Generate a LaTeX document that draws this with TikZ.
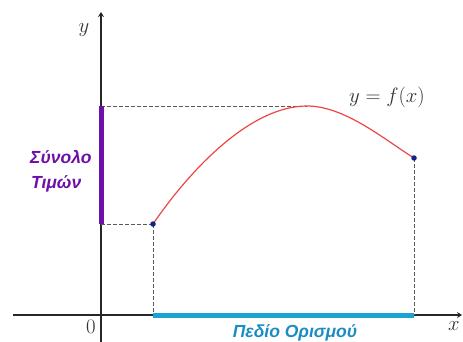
\documentclass[tikz,border=0pt]{standalone}
\usepackage{fontspec}
\usetikzlibrary{arrows.meta}
\newfontfamily\grk{Liberation Sans}
\definecolor{rangecol}{HTML}{6E0FA8}
\definecolor{domcol}{HTML}{19A4D4}
\definecolor{domtext}{HTML}{1B8CC4}
\definecolor{curvecol}{HTML}{EE4444}
\definecolor{ptcol}{HTML}{13238A}
\begin{document}
\begin{tikzpicture}[x=1pt,y=-1pt,
  axis/.style={line width=1.1pt,draw=black!85},
  guide/.style={line width=0.8pt,draw=black!65,dash pattern=on 3.5pt off 2.5pt},
  bar/.style={line width=5pt},
  pt/.style={circle,fill=ptcol,inner sep=0pt,minimum size=5.5pt},
  mathlbl/.style={font=\fontsize{22}{26}\selectfont,text=black!80},
  grklbl/.style={font=\grk\bfseries\itshape\fontsize{17.5}{21}\selectfont}]
\useasboundingbox (0,0) rectangle (463,342);
% axes
\coordinate (xl) at (13,315);
\coordinate (xr) at (462,315);
\coordinate (yb) at (101,342);
\coordinate (yt) at (101,12);
\draw[axis,-{Stealth[length=5pt,width=6pt]}] (xl) -- (xr);
\draw[axis,-{Stealth[length=5pt,width=6pt]}] (yb) -- (yt);
% key points
\coordinate (A) at (153,224);
\coordinate (B) at (414,158);
\coordinate (M) at (307,106);
\coordinate (Ay) at (101,224);
\coordinate (My) at (101,106);
\coordinate (Ax) at (153,315);
\coordinate (Bx) at (414,315);
% guides
\draw[guide] (My) -- (M);
\draw[guide] (Ay) -- (A);
\draw[guide] (A) -- (Ax);
\draw[guide] (B) -- (Bx);
% bars
\draw[bar,draw=rangecol] (Ay) -- (My);
\draw[bar,draw=domcol] (Ax) -- (Bx);
% curve
\draw[curvecol,line width=1.2pt] (A) .. controls (190,170) and (250,106) .. (M)
  .. controls (345,106) and (385,140) .. (B);
\node[pt] (pa) at (A) {};
\node[pt] (pb) at (B) {};
% labels
\node[mathlbl] (ly) at (84,30) {$y$};
\node[mathlbl] (lx) at (454,326) {$x$};
\node[mathlbl] (l0) at (91,327) {$0$};
\node[mathlbl] (lf) at (387,97) {$y=f(x)$};
\node[grklbl,text=rangecol,anchor=west,inner sep=0pt] (s1) at (30,157) {Σύνολο};
\node[grklbl,text=rangecol,anchor=west,inner sep=0pt] (s2) at (31,184) {Τιμών};
\node[grklbl,text=domtext,inner sep=0pt] (d1) at (295,333) {Πεδίο Ορισμού};
\end{tikzpicture}
\end{document}
